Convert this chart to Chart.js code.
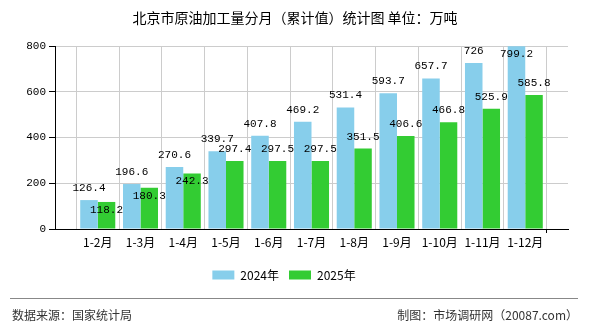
<!DOCTYPE html>
<html>
<head>
<meta charset="utf-8">
<script src="https://cdn.jsdelivr.net/npm/chart.js@4/dist/chart.umd.min.js"></script>
<style>
  html, body { margin: 0; padding: 0; background: #fff; }
  #wrap { width: 590px; height: 330px; position: relative; }
</style>
</head>
<body>
<div id="wrap"><canvas id="chart" width="590" height="330"></canvas></div>
<script>
// data
const months = ["", "1-2月", "1-3月", "1-4月", "1-5月", "1-6月", "1-7月", "1-8月", "1-9月", "1-10月", "1-11月", "1-12月", ""];
const values2024 = [null, 126.4, 196.6, 270.6, 339.7, 407.8, 469.2, 531.4, 593.7, 657.7, 726, 799.2, null];
const values2025 = [null, 118.2, 180.3, 242.3, 297.4, 297.5, 297.5, 351.5, 406.6, 466.8, 525.9, 585.8, null];
const yTicks = [0, 200, 400, 600, 800];

const titleText = "北京市原油加工量分月（累计值）统计图 单位：万吨";
const sourceText = "数据来源：国家统计局";
const makerText = "制图：市场调研网（20087.com）";

const cjk = "'Noto Sans CJK SC', sans-serif";

// title, footer and value labels
const extras = {
  id: "extras",
  afterDatasetsDraw(chart) {
    const ctx = chart.ctx;
    const top = chart.chartArea.top;
    ctx.save();
    ctx.fillStyle = "#000";
    ctx.font = "11px 'Liberation Mono', monospace";
    ctx.textAlign = "center";
    ctx.textBaseline = "middle";
    const m0 = chart.getDatasetMeta(0);
    chart.data.datasets.forEach((ds, i) => {
      const meta = chart.getDatasetMeta(i);
      meta.data.forEach((bar, j) => {
        if (ds.data[j] == null) return;
        let y = bar.y - 12;
        // no room above the plot, or too close to the 2024 label: put it on the bar top
        if (y < top + 4) y = bar.y + 8;
        if (i === 1 && m0.data[j].y - 12 > y - 8) y = bar.y + 8;
        ctx.fillText(String(ds.data[j]), bar.x, y);
      });
    });
    ctx.restore();
  },
  afterDraw(chart) {
    const ctx = chart.ctx;
    ctx.save();
    ctx.fillStyle = "#000";
    ctx.font = "14px " + cjk;
    ctx.textAlign = "center";
    ctx.textBaseline = "middle";
    ctx.fillText(titleText, 295, 18);

    // footer
    ctx.strokeStyle = "#888";
    ctx.lineWidth = 1;
    ctx.beginPath();
    ctx.moveTo(10, 298.5);
    ctx.lineTo(578, 298.5);
    ctx.stroke();
    ctx.fillStyle = "#333";
    ctx.font = "12px " + cjk;
    ctx.textAlign = "left";
    ctx.fillText(sourceText, 12, 315);
    ctx.textAlign = "right";
    ctx.fillText(makerText, 578, 315);
    ctx.restore();
  }
};

new Chart(document.getElementById("chart").getContext("2d"), {
  type: "bar",
  data: {
    labels: months,
    datasets: [
      {
        label: "2024年",
        data: values2024,
        backgroundColor: "#87CEEB",
        categoryPercentage: 0.82,
        barPercentage: 1,
      },
      {
        label: "2025年",
        data: values2025,
        backgroundColor: "#33CC33",
        categoryPercentage: 0.82,
        barPercentage: 1,
      },
    ],
  },
  options: {
    responsive: false,
    animation: false,
    layout: { padding: { top: 46, right: 22, bottom: 39, left: 0 } },
    plugins: {
      title: { display: false },
      tooltip: { enabled: false },
      legend: {
        position: "bottom",
        labels: {
          boxWidth: 22,
          boxHeight: 9,
          padding: 10,
          color: "#000",
          font: { size: 12, family: cjk },
        },
      },
    },
    scales: {
      x: {
        offset: false,
        grid: {
          color: "#cccccc",
          tickLength: 4,
          tickColor: (c) => (c.index === 0 || c.index === months.length - 1 ? "#000" : "rgba(0,0,0,0)"),
        },
        border: { color: "#000" },
        ticks: {
          color: "#000",
          autoSkip: false,
          maxRotation: 0,
          padding: 2,
          font: { size: 12, family: cjk },
        },
        afterFit(scale) { scale.height = 30; },
      },
      y: {
        min: 0,
        max: 800,
        afterBuildTicks(scale) { scale.ticks = yTicks.map((v) => ({ value: v })); },
        grid: { color: "#cccccc", tickLength: 6, tickColor: "#000" },
        border: { color: "#000" },
        ticks: {
          color: "#000",
          padding: 3,
          font: { size: 11, family: "'Liberation Mono', monospace" },
        },
        afterFit(scale) { scale.width = 55; },
      },
    },
  },
  plugins: [extras],
});
</script>
</body>
</html>
